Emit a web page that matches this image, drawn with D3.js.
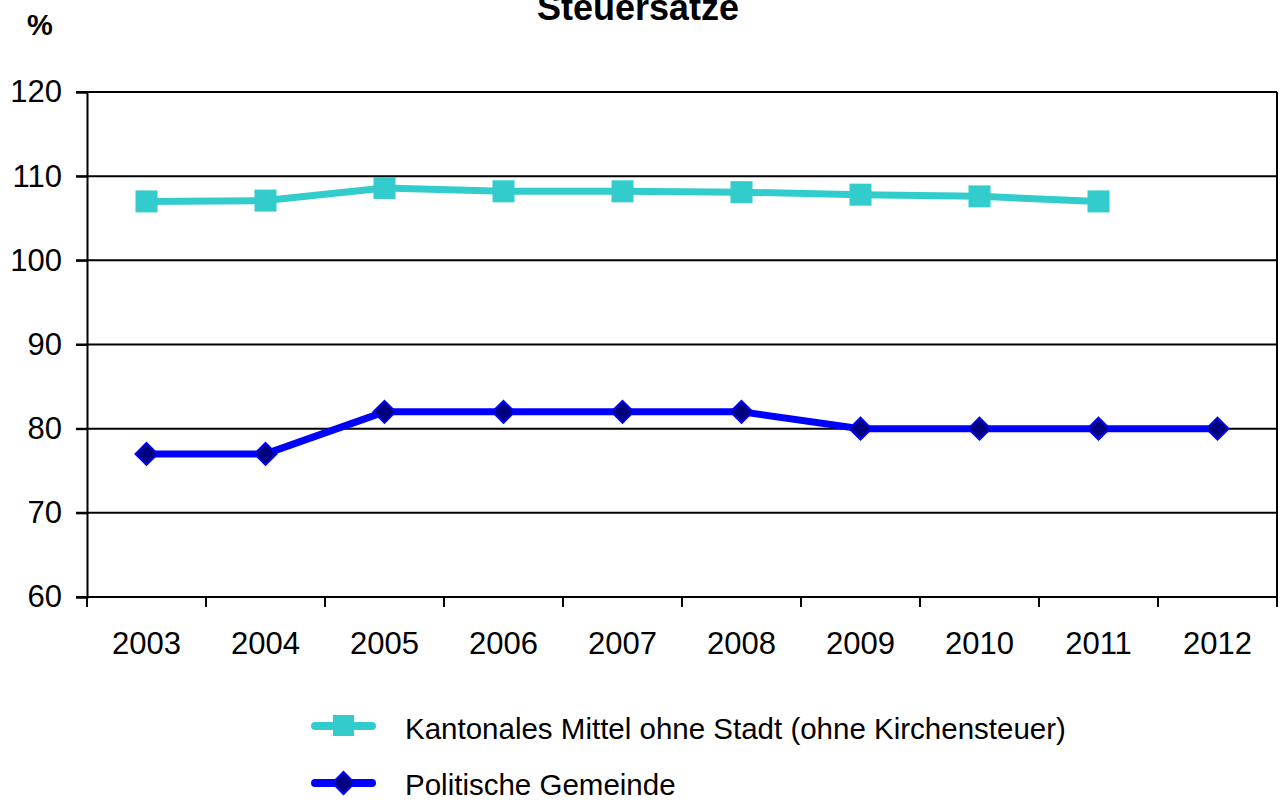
<!DOCTYPE html>
<html>
<head>
<meta charset="utf-8">
<script src="https://cdn.jsdelivr.net/npm/d3@7"></script>
<style>
  html, body { margin: 0; padding: 0; background: #fff; }
  svg { display: block; font-family: "Liberation Sans", Arial, sans-serif; }
</style>
</head>
<body>
<svg id="chart" width="1285" height="802"></svg>
<script>
const years = ["2003","2004","2005","2006","2007","2008","2009","2010","2011","2012"];
const kantonal = [107.0, 107.1, 108.6, 108.2, 108.2, 108.1, 107.8, 107.6, 107.0, null];
const gemeinde = [77, 77, 82, 82, 82, 82, 80, 80, 80, 80];
const yTicks = [60, 70, 80, 90, 100, 110, 120];
const seriesNames = ["Kantonales Mittel ohne Stadt (ohne Kirchensteuer)", "Politische Gemeinde"];
const titleText = "Steuersätze";
const yUnit = "%";

const svg = d3.select("#chart");
const m = {left: 87, right: 1277, top: 92, bottom: 597};

const x = d3.scaleBand().domain(years).range([m.left, m.right]);
const y = d3.scaleLinear().domain([60, 120]).range([m.bottom, m.top]);

// gridlines
svg.append("g").selectAll("line").data(yTicks).join("line")
  .attr("x1", m.left - 11).attr("x2", m.right)
  .attr("y1", d => y(d)).attr("y2", d => y(d))
  .attr("stroke", "#000").attr("stroke-width", 2);

// y axis
const yAxis = svg.append("g").attr("transform", `translate(${m.left},0)`)
  .call(d3.axisLeft(y).tickValues(yTicks).tickSize(11).tickPadding(14));
yAxis.select(".domain").attr("stroke-width", 2);
yAxis.selectAll(".tick line").attr("stroke-width", 2);
yAxis.selectAll("text").attr("font-size", 31).attr("fill", "#000")
  .attr("font-family", "Liberation Sans, Arial, sans-serif");

// x axis (ticks between categories)
const boundaries = years.map(d => x(d)).concat([m.right]);
svg.append("line").attr("x1", m.left).attr("x2", m.right)
  .attr("y1", m.bottom).attr("y2", m.bottom).attr("stroke", "#000").attr("stroke-width", 2);
svg.append("g").selectAll("line").data(boundaries).join("line")
  .attr("x1", d => d).attr("x2", d => d)
  .attr("y1", m.bottom).attr("y2", m.bottom + 10)
  .attr("stroke", "#000").attr("stroke-width", 2);
// right border
svg.append("line").attr("x1", m.right).attr("x2", m.right)
  .attr("y1", m.top).attr("y2", m.bottom).attr("stroke", "#000").attr("stroke-width", 2);

svg.append("g").selectAll("text").data(years).join("text")
  .attr("x", d => x(d) + x.bandwidth() / 2)
  .attr("y", 654)
  .attr("text-anchor", "middle")
  .attr("font-size", 31)
  .text(d => d);

// lines
const cx = d => x(d) + x.bandwidth() / 2;
const lineGen = vals => d3.line()
  .defined((d, i) => vals[i] != null)
  .x((d, i) => cx(years[i]))
  .y((d, i) => y(vals[i]))(years);

svg.append("path").attr("d", lineGen(kantonal))
  .attr("fill", "none").attr("stroke", "#33CCCC").attr("stroke-width", 7);
svg.append("path").attr("d", lineGen(gemeinde))
  .attr("fill", "none").attr("stroke", "#0000FF").attr("stroke-width", 7);

const kData = years.map((d, i) => ({year: d, v: kantonal[i]})).filter(d => d.v != null);
svg.append("g").selectAll("rect").data(kData).join("rect")
  .attr("x", d => cx(d.year) - 11).attr("y", d => y(d.v) - 11)
  .attr("width", 22).attr("height", 22).attr("fill", "#33CCCC");

const gData = years.map((d, i) => ({year: d, v: gemeinde[i]}));
const diamond = (px, py, r) => `M${px},${py - r}L${px + r},${py}L${px},${py + r}L${px - r},${py}Z`;
svg.append("g").selectAll("path").data(gData).join("path")
  .attr("d", d => diamond(cx(d.year), y(d.v), 11))
  .attr("fill", "#000080").attr("stroke", "#0000FF").attr("stroke-width", 2);

// title & unit
svg.append("text").attr("x", 638).attr("y", 20).attr("text-anchor", "middle")
  .attr("font-size", 36).attr("font-weight", "bold").text(titleText);
svg.append("text").attr("x", 27).attr("y", 35)
  .attr("font-size", 29).attr("font-weight", "bold").text(yUnit);

// legend
const leg = svg.append("g");
leg.append("line").attr("x1", 315).attr("x2", 372).attr("y1", 726).attr("y2", 726)
  .attr("stroke", "#33CCCC").attr("stroke-width", 8).attr("stroke-linecap", "round");
leg.append("rect").attr("x", 333).attr("y", 715).attr("width", 21).attr("height", 21).attr("fill", "#33CCCC");
leg.append("text").attr("x", 405).attr("y", 739).attr("font-size", 29.5).text(seriesNames[0]);

leg.append("line").attr("x1", 315).attr("x2", 372).attr("y1", 783).attr("y2", 783)
  .attr("stroke", "#0000FF").attr("stroke-width", 8).attr("stroke-linecap", "round");
leg.append("path").attr("d", diamond(343.5, 783, 11))
  .attr("fill", "#000080").attr("stroke", "#0000FF").attr("stroke-width", 2);
leg.append("text").attr("x", 405).attr("y", 795).attr("font-size", 29.5).text(seriesNames[1]);
</script>
</body>
</html>
